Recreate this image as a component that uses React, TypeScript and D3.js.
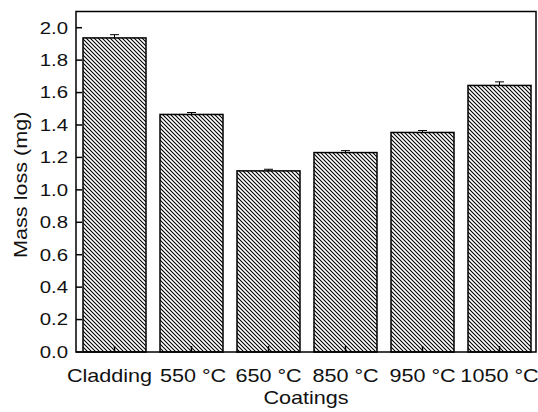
import React from 'react';
import * as d3 from 'd3';

const categories = ['Cladding', '550 °C', '650 °C', '850 °C', '950 °C', '1050 °C'];
const massLoss = [1.937, 1.465, 1.117, 1.23, 1.354, 1.644];
const errors = [0.02, 0.012, 0.01, 0.012, 0.012, 0.022];
const yTicks = [0, 0.2, 0.4, 0.6, 0.8, 1.0, 1.2, 1.4, 1.6, 1.8, 2.0];
const xTitle = 'Coatings';
const yTitle = 'Mass loss (mg)';

export default function App() {
  const W = 538, H = 412;
  const left = 76, right = 536, bottom = 352;
  const x = d3.scaleBand<string>().domain(categories).range([76, 538]).paddingInner(14 / 77).paddingOuter(7 / 77);
  const y = d3.scaleLinear().domain([0, 2.1]).range([bottom, 11.5]);
  const top = y(2.1);
  const font = "'Liberation Sans', Arial, sans-serif";
  const sx = 1.2;
  const labelDx = (i: number) => (i === 0 ? -5 : i === 1 ? 1.5 : 0);
  return (
    <svg width={W} height={H} style={{ position: 'absolute', left: 0, top: 0 }} fontFamily={font}>
      <defs>
        <pattern id="hatch" patternUnits="userSpaceOnUse" width={4} height={4}>
          <rect width={4} height={4} fill="#fff" />
          <path d="M-1,-1 L5,5 M-1,3 L1,5 M3,-1 L5,1" stroke="#000" strokeWidth={1.1} />
        </pattern>
      </defs>
      <rect width={W} height={H} fill="#fff" />
      {categories.map((c, i) => {
        const cx = (x(c) as number) + x.bandwidth() / 2;
        return (
          <g key={'e' + c}>
            <line x1={cx} x2={cx} y1={y(massLoss[i] - errors[i])} y2={y(massLoss[i] + errors[i])} stroke="#000" strokeWidth={1} />
            <line x1={cx - 4.5} x2={cx + 4.5} y1={y(massLoss[i] + errors[i])} y2={y(massLoss[i] + errors[i])} stroke="#000" strokeWidth={1} />
          </g>
        );
      })}
      {categories.map((c, i) => (
        <rect key={c} x={x(c)} y={y(massLoss[i])} width={x.bandwidth()} height={bottom - y(massLoss[i])}
          fill="url(#hatch)" stroke="#000" strokeWidth={1.5} />
      ))}
      <rect x={left} y={top} width={right - left} height={bottom - top} fill="none" stroke="#000" strokeWidth={1.5} />
      {yTicks.map(t => (
        <g key={t}>
          <line x1={left} x2={left + 6} y1={y(t)} y2={y(t)} stroke="#000" strokeWidth={1.5} />
          <text transform={`translate(68,${y(t)}) scale(${sx},1)`} textAnchor="end" dominantBaseline="central" fontSize={17} fill="#111">{t.toFixed(1)}</text>
        </g>
      ))}
      {categories.map((c, i) => {
        const cx = (x(c) as number) + x.bandwidth() / 2;
        return (
          <g key={'t' + c}>
            <line x1={cx} x2={cx} y1={bottom} y2={bottom - 6} stroke="#000" strokeWidth={1.5} />
            <text transform={`translate(${cx + labelDx(i)},382) scale(${sx},1)`} textAnchor="middle" fontSize={18} fill="#111">{c}</text>
          </g>
        );
      })}
      <text transform={`translate(${(left + right) / 2},404) scale(${sx},1)`} textAnchor="middle" fontSize={18} fill="#111">{xTitle}</text>
      <text transform={`translate(27,${(top + bottom) / 2 + 3}) rotate(-90) scale(${sx},1)`} textAnchor="middle" fontSize={18} fill="#111">{yTitle}</text>
    </svg>
  );
}
